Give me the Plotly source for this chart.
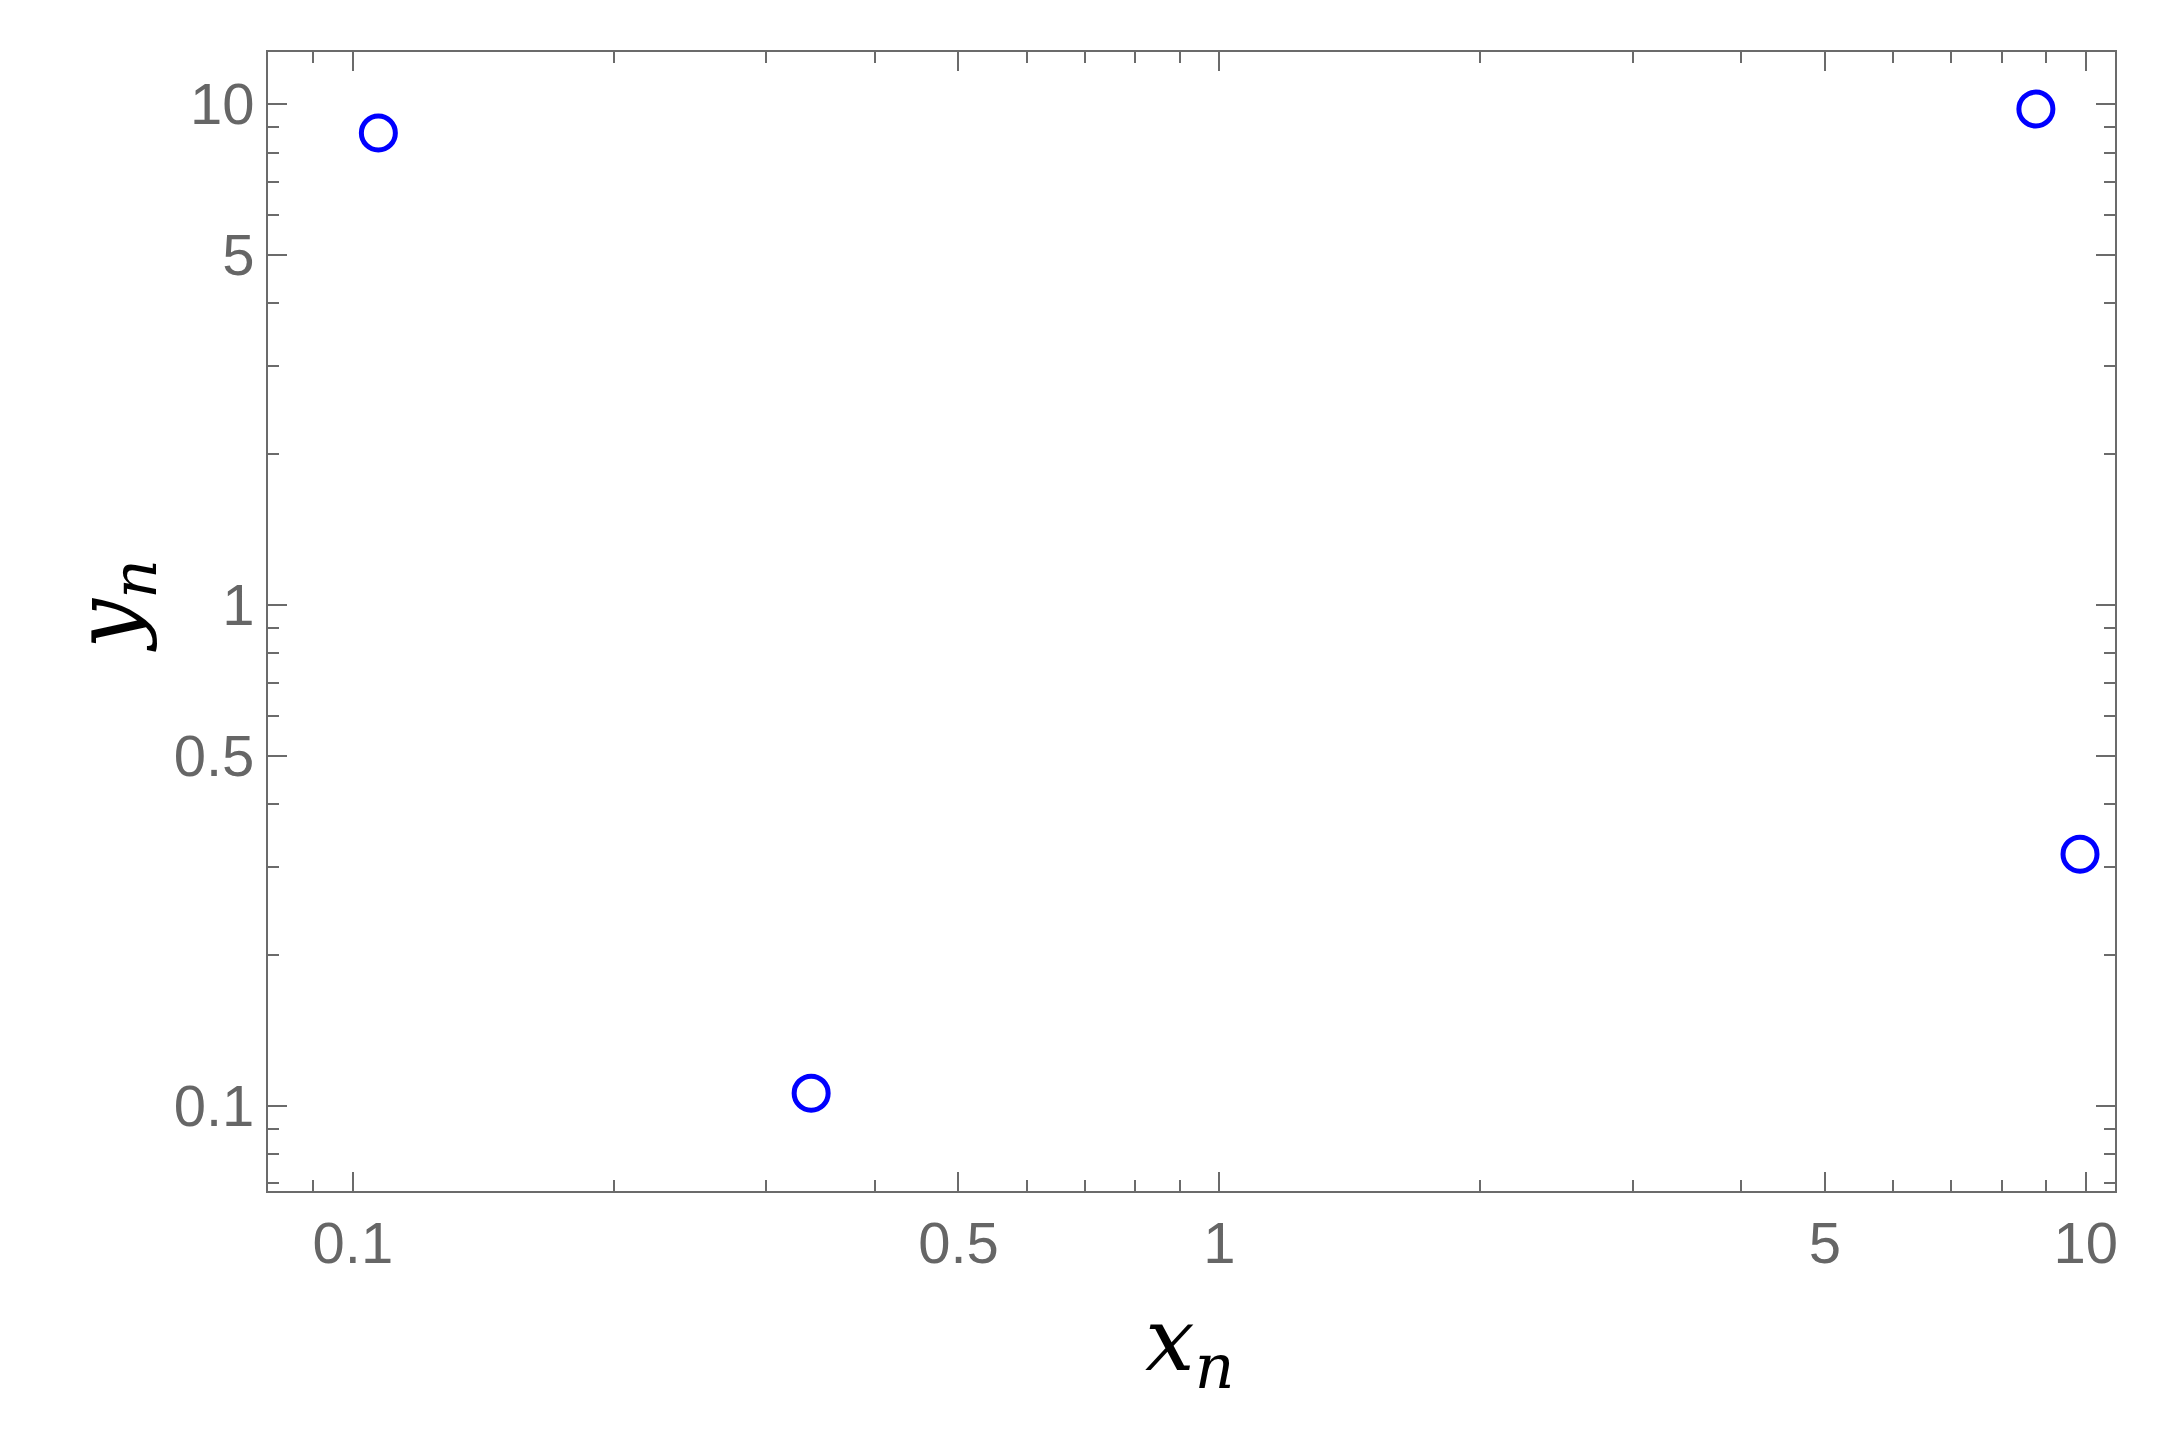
import math
import plotly.graph_objects as go

x_vals = [0.107, 0.338, 8.76, 9.85]
y_vals = [8.75, 0.106, 9.77, 0.318]

x_major = [0.1, 0.5, 1, 5, 10]
x_major_text = ["0.1", "0.5", "1", "5", "10"]
x_minor = [0.08, 0.09, 0.2, 0.3, 0.4, 0.6, 0.7, 0.8, 0.9, 2, 3, 4, 6, 7, 8, 9]
y_major = [0.1, 0.5, 1, 5, 10]
y_major_text = ["0.1", "0.5", "1", "5", "10"]
y_minor = [0.07, 0.08, 0.09, 0.2, 0.3, 0.4, 0.6, 0.7, 0.8, 0.9, 2, 3, 4, 6, 7, 8, 9]

x_range = [0.0798, 10.81]
y_range = [0.0676, 12.70]

x_title = "<i>x</i><sub><i>n</i></sub>"
y_title = "<i>y</i><sub><i>n</i></sub>"

axis_color = "#6b6b6b"
title_font = dict(family="DejaVu Serif, Liberation Serif, serif", size=88, color="#000000")

fig = go.Figure()
fig.add_trace(go.Scatter(
    x=x_vals, y=y_vals, mode="markers",
    marker=dict(symbol="circle-open", size=34, color="#0000ff",
                line=dict(width=5, color="#0000ff")),
    showlegend=False, hoverinfo="x+y",
))

common = dict(
    type="log", showgrid=False, zeroline=False,
    showline=True, linecolor=axis_color, linewidth=2, mirror="allticks",
    ticks="inside", ticklen=19, tickwidth=2, tickcolor=axis_color,
    tickfont=dict(family="Liberation Sans, Arial, sans-serif", size=58, color="#666666"),
)

fig.update_xaxes(
    **common,
    range=[math.log10(v) for v in x_range],
    tickmode="array", tickvals=x_major, ticktext=x_major_text,
    minor=dict(tickmode="array", tickvals=x_minor, ticks="inside", ticklen=11,
               tickwidth=2, tickcolor=axis_color, showgrid=False),
)
fig.update_yaxes(
    **common,
    range=[math.log10(v) for v in y_range],
    tickmode="array", tickvals=y_major, ticktext=y_major_text,
    minor=dict(tickmode="array", tickvals=y_minor, ticks="inside", ticklen=11,
               tickwidth=2, tickcolor=axis_color, showgrid=False),
)

fig.add_annotation(text=x_title, xref="paper", yref="paper", x=0.499, y=-0.136,
                   xanchor="center", yanchor="middle", showarrow=False, font=title_font)
fig.add_annotation(text=y_title, xref="paper", yref="paper", x=-0.084, y=0.514,
                   xanchor="center", yanchor="middle", showarrow=False, font=title_font,
                   textangle=-90)

fig.update_layout(
    width=2165, height=1431,
    margin=dict(l=260, r=58, t=44, b=248, autoexpand=False),
    paper_bgcolor="white", plot_bgcolor="white",
)

fig.write_html("out.html")
